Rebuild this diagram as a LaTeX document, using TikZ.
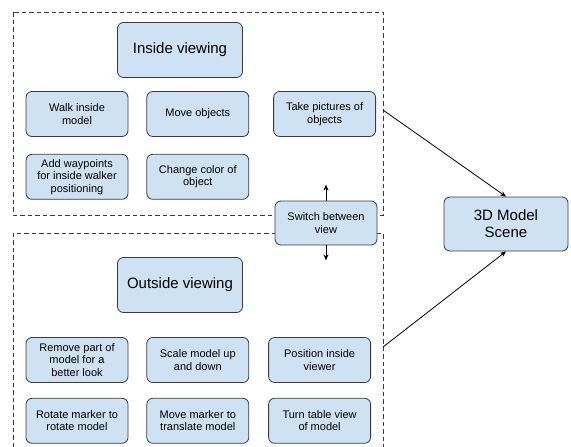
\documentclass[tikz,border=0pt]{standalone}
\usepackage{fontspec}
\setmainfont{Liberation Sans}
\usetikzlibrary{arrows.meta, positioning}
\definecolor{boxblue}{HTML}{CFE2F3}
\definecolor{boxline}{HTML}{3A3A3A}

\begin{document}
\begin{tikzpicture}[
    x=1pt, y=-1pt,
    % spacing between the task boxes
    node distance=17pt and 18pt,
    task/.style={draw=boxline, fill=boxblue, rounded corners=6pt, line width=0.8pt, minimum width=102pt, minimum height=45pt, align=center, inner sep=2pt, font=\fontsize{11}{12.5}\selectfont},
    mode/.style={task, minimum width=125pt, minimum height=55pt, font=\fontsize{15}{17}\selectfont},
    region/.style={draw=boxline, line width=0.8pt, dash pattern=on 4.5pt off 3pt},
    >={Stealth[length=6pt, width=5pt]}
]
    \useasboundingbox (0,0) rectangle (571,447);

    % Dashed regions
    \draw[region] (13,12) rectangle (383,215);
    \draw[region] (13,447) -- (13,233) -- (383,233) -- (383,447);
    \coordinate (inedge) at (383,110);
    \coordinate (outedge) at (383,347);

    % Inside viewing
    \node[mode] at (180,50) (inside) {Inside viewing};
    \node[task] at (77,114) (walk) {Walk inside\\model};
    \node[task, right=of walk] (moveobj) {Move objects};
    \node[task, right=24pt of moveobj] (pictures) {Take pictures of\\objects};
    \node[task, below=of walk] (waypoints) {Add waypoints\\for inside walker\\positioning};
    \node[task, below=of moveobj] (colour) {Change color of\\object};

    % Outside viewing
    \node[mode] at (180,285) (outside) {Outside viewing};
    \node[task] at (77,360) (remove) {Remove part of\\model for a\\better look};
    \node[task, right=of remove] (scale) {Scale model up\\and down};
    \node[task, right=19pt of scale] (viewer) {Position inside\\viewer};
    \node[task, below=15pt of remove] (rotate) {Rotate marker to\\rotate model};
    \node[task, below=15pt of scale] (translate) {Move marker to\\translate model};
    \node[task, below=15pt of viewer] (turntable) {Turn table view\\of model};

    % Switch and scene
    \node[task, minimum height=44pt] at (326,223) (switch) {Switch between\\view};
    \node[mode, minimum width=124pt, minimum height=54pt] at (506,224) (scene) {3D Model\\Scene};
    \coordinate[above=16pt of switch] (switchup);
    \coordinate[below=15pt of switch] (switchdown);

    % Connections
    \draw[->, line width=0.8pt] (switch) -- (switchup);
    \draw[->, line width=0.8pt] (switch) -- (switchdown);
    \draw[->, line width=0.8pt] (inedge) -- (scene.north);
    \draw[->, line width=0.8pt] (outedge) -- (scene.south);

\end{tikzpicture}
\end{document}
